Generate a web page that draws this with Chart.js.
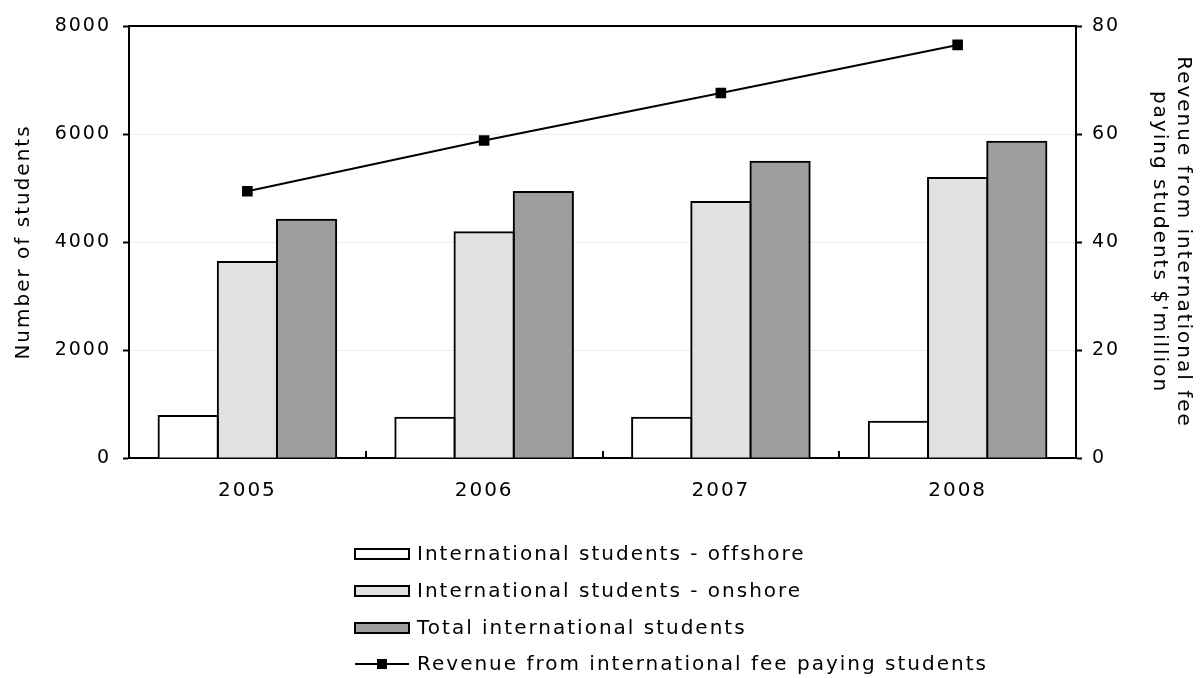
<!DOCTYPE html>
<html>
<head>
<meta charset="utf-8">
<script src="https://cdn.jsdelivr.net/npm/chart.js@4/dist/chart.umd.min.js"></script>
<style>
  html, body { margin: 0; padding: 0; background: #fff; }
  #wrap { width: 1201px; height: 678px; }
</style>
</head>
<body>
<div id="wrap"><canvas id="c" width="1201" height="678"></canvas></div>
<script>
// Student numbers (left axis) and revenue in $ million (right axis)
const years = ['2005', '2006', '2007', '2008'];
const offshore = [780, 745, 745, 670];
const onshore = [3630, 4180, 4740, 5185];
const totalStudents = [4410, 4925, 5485, 5855];
const revenue = [49.4, 58.8, 67.6, 76.5];
const studentTicks = [0, 2000, 4000, 6000, 8000];
const revenueTicks = [0, 20, 40, 60, 80];

const FONT = 'DejaVu Sans';
const FONT_SIZE = 20;
const SPACING = '2px';

Chart.defaults.font.family = FONT;
Chart.defaults.font.size = FONT_SIZE;
Chart.defaults.color = '#000';

// Wider letter tracking for all canvas text
const tracking = {
  id: 'tracking',
  beforeLayout(chart) { chart.ctx.letterSpacing = SPACING; },
  beforeDraw(chart) { chart.ctx.letterSpacing = SPACING; }
};

// Top edge of the plot frame and the short category separators on the x axis
const frame = {
  id: 'frame',
  afterDatasetsDraw(chart) {
    const { ctx, chartArea: a, scales: { x } } = chart;
    ctx.save();
    ctx.strokeStyle = '#000';
    ctx.lineWidth = 2;
    ctx.beginPath();
    ctx.moveTo(a.left, a.top);
    ctx.lineTo(a.right, a.top);
    for (let i = 1; i < years.length; i++) {
      const px = Math.round((x.getPixelForValue(i - 1) + x.getPixelForValue(i)) / 2);
      ctx.moveTo(px, a.bottom);
      ctx.lineTo(px, a.bottom - 7);
    }
    ctx.stroke();
    ctx.restore();
  }
};

// Stacked one-per-row legend under the chart
const stackedLegend = {
  id: 'stackedLegend',
  afterDraw(chart) {
    const { ctx } = chart;
    const rowY = [554, 591, 628, 664];
    const boxX = 355, boxW = 54, boxH = 10, textX = 417;
    ctx.save();
    ctx.letterSpacing = SPACING;
    ctx.font = FONT_SIZE + 'px "' + FONT + '"';
    ctx.textBaseline = 'middle';
    ctx.textAlign = 'left';
    chart.data.datasets.forEach((ds, i) => {
      const y = rowY[i];
      ctx.strokeStyle = '#000';
      if (ds.type === 'line') {
        ctx.lineWidth = 2;
        ctx.beginPath();
        ctx.moveTo(boxX, y);
        ctx.lineTo(boxX + boxW, y);
        ctx.stroke();
        ctx.fillStyle = '#000';
        ctx.fillRect(boxX + boxW / 2 - 5, y - 5, 10, 10);
      } else {
        ctx.fillStyle = ds.backgroundColor;
        ctx.fillRect(boxX, y - boxH / 2, boxW, boxH);
        ctx.lineWidth = 2;
        ctx.strokeRect(boxX, y - boxH / 2, boxW, boxH);
      }
      ctx.fillStyle = '#000';
      ctx.fillText(ds.label, textX, y + 1);
    });
    ctx.restore();
  }
};

const plain = v => String(v);

new Chart(document.getElementById('c'), {
  data: {
    labels: years,
    datasets: [
      { type: 'bar', label: 'International students - offshore', data: offshore, yAxisID: 'y',
        backgroundColor: '#ffffff', borderColor: '#000', borderWidth: 2, inflateAmount: 1, order: 1 },
      { type: 'bar', label: 'International students - onshore', data: onshore, yAxisID: 'y',
        backgroundColor: '#e1e1e1', borderColor: '#000', borderWidth: 2, inflateAmount: 1, order: 1 },
      { type: 'bar', label: 'Total international students', data: totalStudents, yAxisID: 'y',
        backgroundColor: '#9e9e9e', borderColor: '#000', borderWidth: 2, inflateAmount: 1, order: 1 },
      { type: 'line', label: 'Revenue from international fee paying students', data: revenue, yAxisID: 'y1',
        borderColor: '#000', borderWidth: 2, backgroundColor: '#000',
        pointStyle: 'rect', pointRadius: 7.5, pointBorderWidth: 0, pointBackgroundColor: '#000',
        tension: 0, fill: false, order: 0 }
    ]
  },
  options: {
    responsive: false,
    animation: false,
    devicePixelRatio: 1,
    layout: { padding: { top: 26, bottom: 0, left: 0, right: 0 } },
    datasets: { bar: { categoryPercentage: 0.75, barPercentage: 1.0 } },
    plugins: { legend: { display: false }, tooltip: { enabled: false } },
    scales: {
      x: {
        grid: { display: false, drawTicks: false },
        border: { display: true, color: '#000', width: 2 },
        ticks: { padding: 21 },
        afterFit(s) { s.height = 220; }
      },
      y: {
        position: 'left',
        min: 0, max: 8000,
        afterBuildTicks(s) { s.ticks = studentTicks.map(v => ({ value: v })); },
        grid: { color: '#ececec', lineWidth: 1, tickColor: '#000', tickLength: 6, tickWidth: 2 },
        border: { display: true, color: '#000', width: 2 },
        ticks: { padding: 12, callback: plain, font: { size: 19 } },
        title: { display: true, text: 'Number of students', padding: { top: 12, bottom: 0 } },
        afterFit(s) { s.width = 129; }
      },
      y1: {
        position: 'right',
        min: 0, max: 80,
        afterBuildTicks(s) { s.ticks = revenueTicks.map(v => ({ value: v })); },
        grid: { drawOnChartArea: false, tickColor: '#000', tickLength: 6, tickWidth: 2 },
        border: { display: true, color: '#000', width: 2 },
        ticks: { padding: 10, callback: plain, font: { size: 19 } },
        title: { display: true, text: ['Revenue from international fee', "paying students $'million"], padding: { top: 6, bottom: 0 } },
        afterFit(s) { s.width = 125; }
      }
    }
  },
  plugins: [tracking, frame, stackedLegend]
});
</script>
</body>
</html>
